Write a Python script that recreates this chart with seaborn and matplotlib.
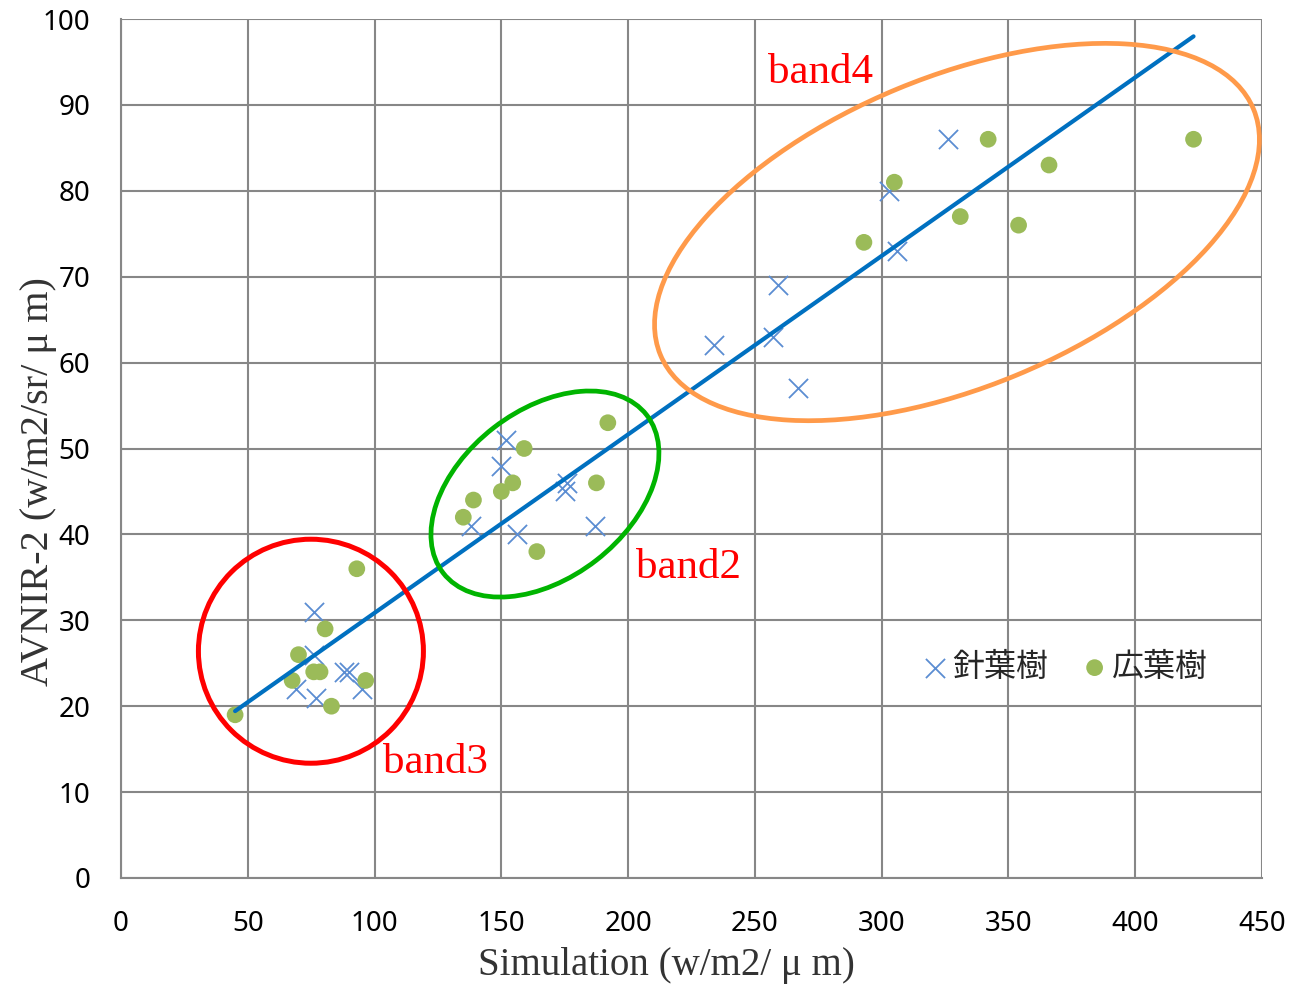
import numpy as np
import pandas as pd
import matplotlib
matplotlib.use("Agg")
import matplotlib.pyplot as plt
import matplotlib.transforms as mtransforms
from matplotlib.patches import Ellipse
import seaborn as sns

# ---------------- data ----------------
conifer_x = [76, 76, 88, 90, 69, 77, 95, 152, 150, 176, 175, 138, 156, 187,
             326, 303, 306, 259, 257, 234, 267]
conifer_y = [31, 26, 24, 24, 22, 21, 22, 51, 48, 46, 45, 41, 40, 41,
             86, 80, 73, 69, 63, 62, 57]

broad_x = [45, 93, 80.5, 70, 67.5, 76, 78.5, 83, 96.5,
           192, 159, 154.5, 150, 187.5, 139, 135, 164,
           305, 331, 293, 342, 366, 354, 423]
broad_y = [19, 36, 29, 26, 23, 24, 24, 20, 23,
           53, 50, 46, 45, 46, 44, 42, 38,
           81, 77, 74, 86, 83, 76, 86]

series_names = ["針葉樹", "広葉樹"]
trend_slope = 0.2078
trend_intercept = 10.08

x_ticks = [0, 50, 100, 150, 200, 250, 300, 350, 400, 450]
y_ticks = [0, 10, 20, 30, 40, 50, 60, 70, 80, 90, 100]

band_labels = ["band3", "band2", "band4"]
band_label_x = [124, 224, 276]
band_label_y = [13.4, 36.1, 93.7]

x_label = "Simulation (w/m2/ μ m)"
y_label = "AVNIR-2 (w/m2/sr/ μ m)"

# ---------------- figure ----------------
sns.set_theme(style="white")
plt.rcParams['font.family'] = ['Noto Sans', 'DejaVu Sans']

fig = plt.figure(figsize=(12.92, 9.85), dpi=100)
ax = fig.add_axes([121 / 1292, 1 - 878 / 985, 1141 / 1292, 859 / 985])
ax.set_xlim(0, 450)
ax.set_ylim(0, 100)

grid_c = "#878787"
ax.set_xticks(x_ticks)
ax.set_yticks(y_ticks)
ax.grid(True, color=grid_c, linewidth=1.5, zorder=0)
ax.set_axisbelow(True)
for s in ["top", "right"]:
    ax.spines[s].set_visible(False)
for s in ["left", "bottom"]:
    ax.spines[s].set_color(grid_c)
    ax.spines[s].set_linewidth(1.5)
ax.tick_params(axis="both", which="major", direction="out", length=7,
               width=1.3, color=grid_c, labelsize=20, labelcolor="black")
ax.tick_params(axis="y", pad=15)
ax.tick_params(axis="x", pad=16)

df_c = pd.DataFrame({"x": conifer_x, "y": conifer_y})
df_b = pd.DataFrame({"x": broad_x, "y": broad_y})

sns.scatterplot(data=df_c, x="x", y="y", ax=ax, marker="x", s=190,
                color="#5b8dd2", linewidth=1.3, label=series_names[0], zorder=3)
sns.scatterplot(data=df_b, x="x", y="y", ax=ax, marker="o", s=145,
                color="#9bbb59", edgecolor="none", label=series_names[1], zorder=4)

all_x = np.array(conifer_x + broad_x, dtype=float)
tx = np.array([all_x.min(), all_x.max()])
df_t = pd.DataFrame({"x": tx, "y": trend_slope * tx + trend_intercept})
sns.lineplot(data=df_t, x="x", y="y", ax=ax, color="#0070c0", linewidth=3.0,
             zorder=5, legend=False)

# ellipses drawn in pixel space around data-space centres
def add_ellipse(cx, cy, w_px, h_px, angle, color, lw):
    tr = mtransforms.ScaledTranslation(cx, cy, ax.transData)
    e = Ellipse((0, 0), w_px, h_px, angle=angle, fill=False, edgecolor=color,
                linewidth=lw, transform=tr, clip_on=False, zorder=6)
    ax.add_artist(e)

add_ellipse(74.9, 26.4, 225, 224, 0, "#ff0000", 3.6)
add_ellipse(167.2, 44.7, 257.6, 167.6, 37.8, "#00b400", 3.4)
add_ellipse(329.7, 75.2, 642, 310, 22.5, "#ff9a4a", 3.4)

for lab, bx, by in zip(band_labels, band_label_x, band_label_y):
    ax.text(bx, by, lab, color="#ff0000", fontsize=31, ha="center", va="center",
            family=["Liberation Serif", "DejaVu Serif"], zorder=7)

ax.set_xlabel(x_label, fontsize=28, family=["Liberation Serif", "DejaVu Serif"],
              color="#333333")
ax.set_ylabel(y_label, fontsize=29, family=["Liberation Serif", "DejaVu Serif"],
              color="#333333")
ax.xaxis.label.set_va("center")
ax.yaxis.label.set_va("center")
ax.xaxis.set_label_coords(0.4777, -0.1024)
ax.yaxis.set_label_coords(-0.0727, 0.462)

leg = ax.legend(loc="center", bbox_to_anchor=(0.826, 0.2456), ncol=2,
                frameon=False, handletextpad=0.05, columnspacing=0.95,
                handlelength=1.0, markerscale=1.0,
                prop={"family": ["Noto Sans CJK JP", "DejaVu Sans"], "size": 23})

fig.savefig("out.png", dpi=100)
